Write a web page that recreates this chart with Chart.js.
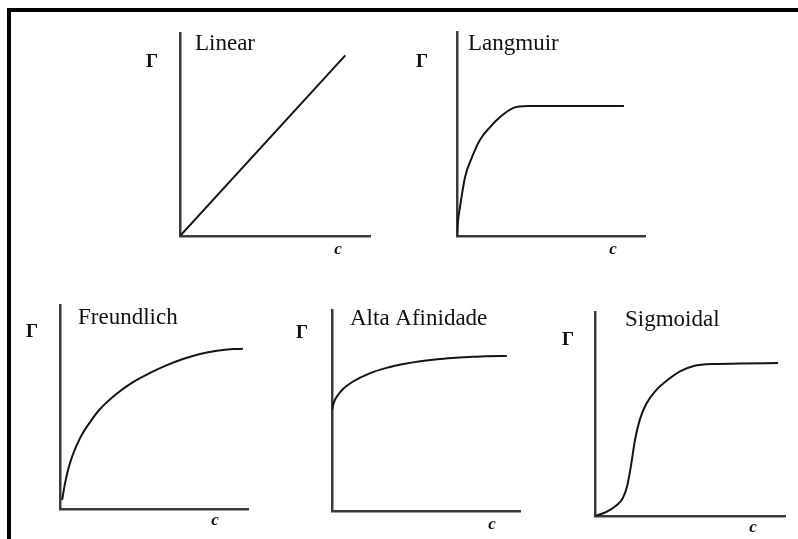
<!DOCTYPE html>
<html>
<head>
<meta charset="utf-8">
<title>Isotermas de adsorção</title>
<script src="https://cdn.jsdelivr.net/npm/chart.js@4.4.1/dist/chart.umd.min.js"></script>
<style>
  html, body { margin: 0; padding: 0; background: #fff; }
  #wrap { position: relative; width: 798px; height: 539px; overflow: hidden; }
  #frame {
    position: absolute; left: 7px; top: 8px; width: 800px; height: 540px;
    border-top: 4px solid #000; border-left: 4px solid #000;
  }
  canvas { position: absolute; left: 0; top: 0; }
</style>
</head>
<body>
<div id="wrap">
  <div id="frame"></div>
  <canvas id="linear" width="798" height="539"></canvas>
  <canvas id="langmuir" width="798" height="539"></canvas>
  <canvas id="freundlich" width="798" height="539"></canvas>
  <canvas id="alta" width="798" height="539"></canvas>
  <canvas id="sigmoidal" width="798" height="539"></canvas>
</div>
<script>
// isotherm shapes: c (concentration) vs Γ (adsorbed amount), both in relative units 0-100
const titles = ["Linear", "Langmuir", "Freundlich", "Alta Afinidade", "Sigmoidal"];

const linearC = [0, 87];
const linearG = [0, 89];

const langmuirC = [0, 0.5, 1.6, 4.3, 8, 12.2, 17.6, 22.9, 29.8, 37.8, 88.8];
const langmuirG = [0, 7, 14.2, 28.9, 38.7, 47.1, 53.4, 58.3, 62.7, 63.7, 63.7];

const freundlichC = [1.1, 2.7, 5.3, 10.6, 16, 21.3, 30.3, 38.8, 47.9, 56.9, 65.4, 74.5, 83.5, 92, 97.3];
const freundlichG = [4.4, 12.7, 22.5, 34.6, 42.6, 49, 56.6, 62.2, 66.7, 70.5, 73.5, 76, 77.6, 78.4, 78.5];

const altaC = [0, 1, 3, 6, 11, 20, 29, 38, 47, 56, 64, 73, 82, 93];
const altaG = [50.2, 54, 57.5, 60.8, 64.3, 68.5, 71.2, 73.1, 74.5, 75.5, 76.1, 76.6, 77, 77.1];

const sigmoidalC = [0, 6, 11, 14.5, 17, 19, 21, 23.5, 27, 32, 38, 45, 52, 62, 76, 96.3];
const sigmoidalG = [0, 2, 5, 8.5, 15, 25, 37, 47, 55, 61.5, 66.5, 71, 73.5, 74.5, 74.7, 75];

const W = 798, H = 539;

// writes the panel title inside the axes, Γ beside the y axis and c under the x axis
const panelText = {
  id: "panelText",
  afterDraw(chart, args, opts) {
    const { ctx, chartArea: a } = chart;
    ctx.save();
    ctx.fillStyle = "#111";
    ctx.textBaseline = "middle";
    ctx.textAlign = "left";
    ctx.font = "23px 'Liberation Serif'";
    ctx.fillText(opts.title, a.left + opts.tx, a.top + opts.ty);
    ctx.textAlign = "center";
    ctx.font = "bold 19px 'Liberation Serif'";
    ctx.fillText("\u0393", a.left + opts.gx, a.top + opts.gy);
    ctx.font = "bold italic 17px 'Liberation Serif'";
    ctx.fillText("c", a.right + opts.cx, a.bottom + opts.cy);
    ctx.restore();
  }
};

function makePanel(id, title, cs, gs, box, text) {
  const axis = (hor) => ({
    type: "linear",
    min: 0,
    max: 100,
    grid: { display: false, drawTicks: false },
    ticks: { display: false },
    border: { display: true, color: "#3a3a3a", width: 2.5 },
    afterFit(scale) {
      if (hor) scale.height = 0; else scale.width = 0;
    }
  });
  return new Chart(document.getElementById(id), {
    type: "line",
    data: {
      datasets: [{
        data: cs.map((c, i) => ({ x: c, y: gs[i] })),
        borderColor: "#151515",
        borderWidth: 2,
        pointRadius: 0,
        fill: false,
        cubicInterpolationMode: "monotone"
      }]
    },
    options: {
      responsive: false,
      animation: false,
      events: [],
      layout: {
        padding: { left: box.l, top: box.t, right: W - box.r, bottom: H - box.b }
      },
      scales: { x: axis(true), y: axis(false) },
      plugins: {
        legend: { display: false },
        tooltip: { enabled: false },
        panelText: Object.assign({ title }, text)
      }
    },
    plugins: [panelText]
  });
}

makePanel("linear", titles[0], linearC, linearG,
  { l: 180, t: 33, r: 370, b: 236 },
  { tx: 15, ty: 11, gx: -28, gy: 29, cx: -32, cy: 14 });
makePanel("langmuir", titles[1], langmuirC, langmuirG,
  { l: 457, t: 32, r: 645, b: 236 },
  { tx: 11, ty: 12, gx: -35, gy: 30, cx: -32, cy: 14 });
makePanel("freundlich", titles[2], freundlichC, freundlichG,
  { l: 60, t: 305, r: 248, b: 509 },
  { tx: 18, ty: 13, gx: -28, gy: 27, cx: -33, cy: 12 });
makePanel("alta", titles[3], altaC, altaG,
  { l: 332, t: 310, r: 520, b: 511 },
  { tx: 18, ty: 9, gx: -30, gy: 23, cx: -28, cy: 14 });
makePanel("sigmoidal", titles[4], sigmoidalC, sigmoidalG,
  { l: 595, t: 312, r: 785, b: 516 },
  { tx: 30, ty: 8, gx: -27, gy: 28, cx: -32, cy: 12 });
</script>
</body>
</html>
